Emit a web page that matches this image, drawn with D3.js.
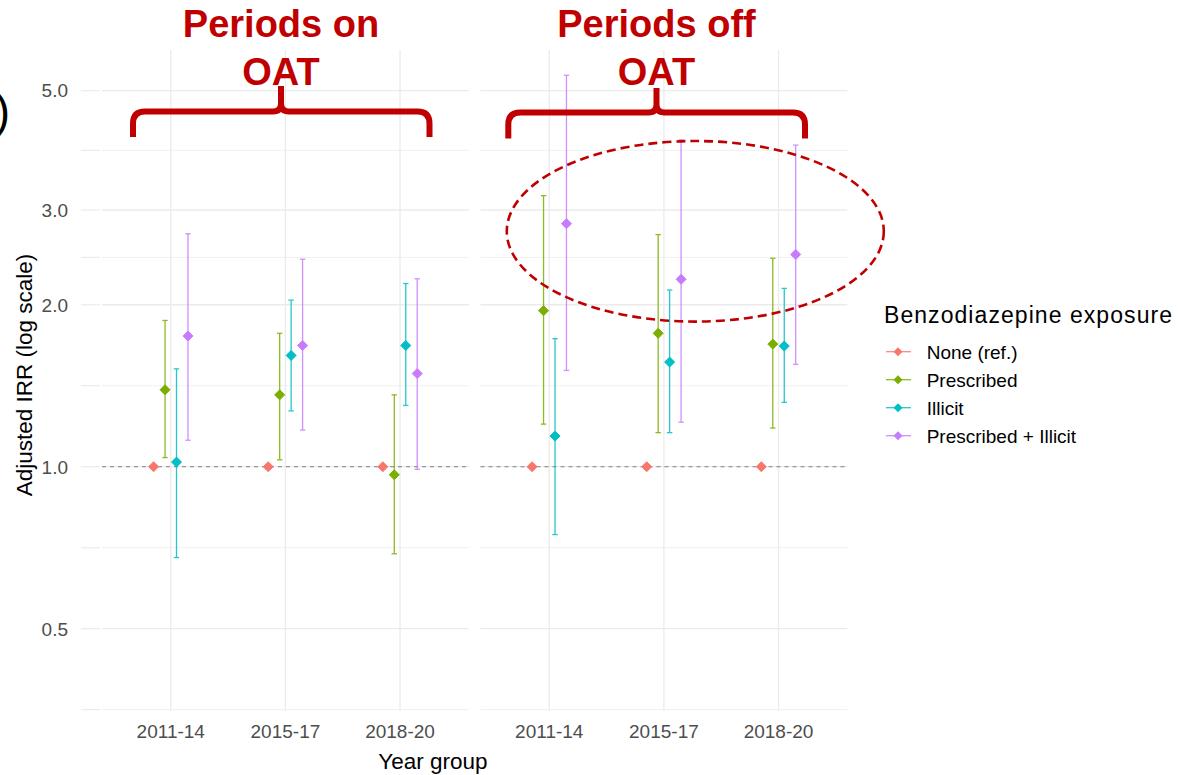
<!DOCTYPE html>
<html>
<head>
<meta charset="utf-8">
<script src="https://cdn.jsdelivr.net/npm/d3@7"></script>
<style>
  html, body { margin: 0; padding: 0; background: #fff; }
  svg { display: block; font-family: "Liberation Sans", Arial, sans-serif; }
</style>
</head>
<body>
<div id="chart"></div>
<script>
// categories
const yearGroups = ["2011-14", "2015-17", "2018-20"];
const exposures = ["None (ref.)", "Prescribed", "Illicit", "Prescribed + Illicit"];
const exposureColors = ["#F8766D", "#7CAE00", "#00BFC4", "#C77CFF"];
const panelTitles = [["Periods on", "OAT"], ["Periods off", "OAT"]];

// y axis breaks (log scale)
const yBreaks = [0.5, 1, 2, 3, 5];
const yBreakLabels = ["0.5", "1.0", "2.0", "3.0", "5.0"];

// periods on OAT : rows = exposure, cols = year group
const onIRR   = [[1, 1, 1], [1.39, 1.36, 0.966], [1.02, 1.61, 1.68], [1.75, 1.68, 1.49]];
const onLower = [[null, null, null], [1.04, 1.03, 0.689], [0.678, 1.27, 1.30], [1.12, 1.17, 0.989]];
const onUpper = [[null, null, null], [1.87, 1.77, 1.36], [1.52, 2.04, 2.19], [2.71, 2.43, 2.235]];

// periods off OAT
const offIRR   = [[1, 1, 1], [1.95, 1.77, 1.69], [1.14, 1.565, 1.676], [2.83, 2.23, 2.48]];
const offLower = [[null, null, null], [1.20, 1.157, 1.18], [0.748, 1.157, 1.317], [1.51, 1.21, 1.55]];
const offUpper = [[null, null, null], [3.19, 2.70, 2.44], [1.73, 2.13, 2.145], [5.34, 4.05, 3.96]];

const W = 1178, H = 775;
const panelTop = 50, panelBottom = 710.7;
const panels = [
	{x0: 102, x1: 468.8, irr: onIRR, lo: onLower, hi: onUpper},
	{x0: 480.5, x1: 847.3, irr: offIRR, lo: offLower, hi: offUpper}
];
const red = "#C00000";

const svg = d3.select("#chart").append("svg").attr("width", W).attr("height", H);

const y = d3.scaleLog().domain([0.352, 5.95]).range([panelBottom, panelTop]);

// minor breaks: geometric midpoints between majors (ggplot style)
const allBreaks = [0.25].concat(yBreaks);
const yMinor = d3.pairs(allBreaks).map(p => Math.sqrt(p[0] * p[1]))
	.filter(v => v >= y.domain()[0] && v <= y.domain()[1]);

// stray grid stubs left of the plot (from source image)
const gridG = svg.append("g");
yBreaks.concat(yMinor).forEach(v => {
	gridG.append("line")
		.attr("x1", 81).attr("x2", 100)
		.attr("y1", y(v)).attr("y2", y(v))
		.attr("stroke", "#ebebeb").attr("stroke-width", 1.2);
});

panels.forEach(function(p, pi){
	const x = d3.scalePoint().domain(yearGroups).range([p.x0, p.x1]).padding(0.6);
	const step = x.step();
	const g = svg.append("g");

	// grid
	yMinor.forEach(v => {
		g.append("line").attr("x1", p.x0).attr("x2", p.x1)
			.attr("y1", y(v)).attr("y2", y(v))
			.attr("stroke", "#f0f0f0").attr("stroke-width", 1);
	});
	yBreaks.forEach(v => {
		g.append("line").attr("x1", p.x0).attr("x2", p.x1)
			.attr("y1", y(v)).attr("y2", y(v))
			.attr("stroke", "#ebebeb").attr("stroke-width", 1.3);
	});
	yearGroups.forEach(yg => {
		g.append("line").attr("x1", x(yg)).attr("x2", x(yg))
			.attr("y1", panelTop).attr("y2", panelBottom)
			.attr("stroke", "#ebebeb").attr("stroke-width", 1.3);
	});

	// reference line at 1
	g.append("line").attr("x1", p.x0).attr("x2", p.x1)
		.attr("y1", y(1)).attr("y2", y(1))
		.attr("stroke", "#808080").attr("stroke-width", 1)
		.attr("stroke-dasharray", "4,4");

	// x tick labels
	yearGroups.forEach(yg => {
		g.append("text").attr("x", x(yg)).attr("y", 738)
			.attr("text-anchor", "middle")
			.attr("fill", "#4d4d4d").style("font-size", "19px")
			.text(yg);
	});

	// point ranges
	exposures.forEach(function(ex, ei){
		const off = (ei - 1.5) * 0.1 * step;
		yearGroups.forEach(function(yg, yi){
			const cx = x(yg) + off;
			const lo = p.lo[ei][yi], hi = p.hi[ei][yi];
			if(lo !== null){
				const eb = g.append("g").attr("stroke", exposureColors[ei])
					.attr("stroke-width", 1.3).attr("opacity", 0.85);
				eb.append("line").attr("x1", cx).attr("x2", cx).attr("y1", y(lo)).attr("y2", y(hi));
				eb.append("line").attr("x1", cx - 2.7).attr("x2", cx + 2.7).attr("y1", y(lo)).attr("y2", y(lo));
				eb.append("line").attr("x1", cx - 2.7).attr("x2", cx + 2.7).attr("y1", y(hi)).attr("y2", y(hi));
			}
			const cy = y(p.irr[ei][yi]), r = 5;
			g.append("path")
				.attr("d", `M${cx},${cy - r}L${cx + r},${cy}L${cx},${cy + r}L${cx - r},${cy}Z`)
				.attr("fill", exposureColors[ei])
				.attr("stroke", exposureColors[ei]).attr("stroke-width", 1)
				.attr("stroke-linejoin", "round");
		});
	});
});

// y axis tick labels
yBreaks.forEach((v, i) => {
	svg.append("text").attr("x", 68).attr("y", y(v)).attr("dy", "0.36em")
		.attr("text-anchor", "end").attr("fill", "#4d4d4d")
		.style("font-size", "19px").text(yBreakLabels[i]);
});

// axis titles
svg.append("text")
	.attr("transform", "translate(32,375) rotate(-90)")
	.attr("text-anchor", "middle").attr("fill", "#000")
	.style("font-size", "22.5px").text("Adjusted IRR (log scale)");
svg.append("text").attr("x", 433).attr("y", 769)
	.attr("text-anchor", "middle").attr("fill", "#000")
	.style("font-size", "22.5px").text("Year group");

// legend
const lg = svg.append("g").attr("transform", "translate(884,0)");
lg.append("text").attr("x", 0).attr("y", 323)
	.attr("textLength", 288).attr("lengthAdjust", "spacing")
	.style("font-size", "23px").attr("fill", "#000").text("Benzodiazepine exposure");
exposures.forEach(function(ex, ei){
	const ly = 351.7 + ei * 28;
	lg.append("line").attr("x1", 2).attr("x2", 27).attr("y1", ly).attr("y2", ly)
		.attr("stroke", exposureColors[ei]).attr("stroke-width", 1.3).attr("opacity", 0.85);
	lg.append("path")
		.attr("d", `M14,${ly - 4.5}L18.5,${ly}L14,${ly + 4.5}L9.5,${ly}Z`)
		.attr("fill", exposureColors[ei]);
	lg.append("text").attr("x", 42.7).attr("y", ly).attr("dy", "0.36em")
		.style("font-size", "19px").attr("fill", "#000").text(ex);
});

// annotations
function brace(x1, x2, xm, yt, bar, yb){
	const r = 12, s = 8;
	return `M${x1},${yb}L${x1},${bar + r}Q${x1},${bar} ${x1 + r},${bar}` +
		`L${xm - s},${bar}Q${xm},${bar} ${xm},${bar - s}L${xm},${yt}` +
		`M${xm},${bar - s}Q${xm},${bar} ${xm + s},${bar}` +
		`L${x2 - r},${bar}Q${x2},${bar} ${x2},${bar + r}L${x2},${yb}`;
}
const braces = [
	{x1: 133, x2: 429.5, xm: 281, yt: 86, bar: 111.5, yb: 137},
	{x1: 508.3, x2: 805, xm: 656.5, yt: 88, bar: 112.5, yb: 138.5}
];
braces.forEach(function(b, i){
	svg.append("path").attr("d", brace(b.x1, b.x2, b.xm, b.yt, b.bar, b.yb))
		.attr("fill", "none").attr("stroke", red).attr("stroke-width", 6);
	panelTitles[i].forEach(function(t, ti){
		svg.append("text").attr("x", b.xm).attr("y", 37 + ti * 48)
			.attr("text-anchor", "middle").attr("fill", red)
			.style("font-size", "38px").style("font-weight", "bold").text(t);
	});
});

svg.append("ellipse").attr("cx", 695.3).attr("cy", 231.3).attr("rx", 188.5).attr("ry", 90.3)
	.attr("fill", "none").attr("stroke", red).attr("stroke-width", 2.6)
	.attr("stroke-dasharray", "9,5");

// cut-off panel tag from the source figure
svg.append("text").attr("x", 10).attr("y", 127).attr("text-anchor", "end")
	.style("font-size", "46px").attr("fill", "#000").text("b)");
</script>
</body>
</html>
